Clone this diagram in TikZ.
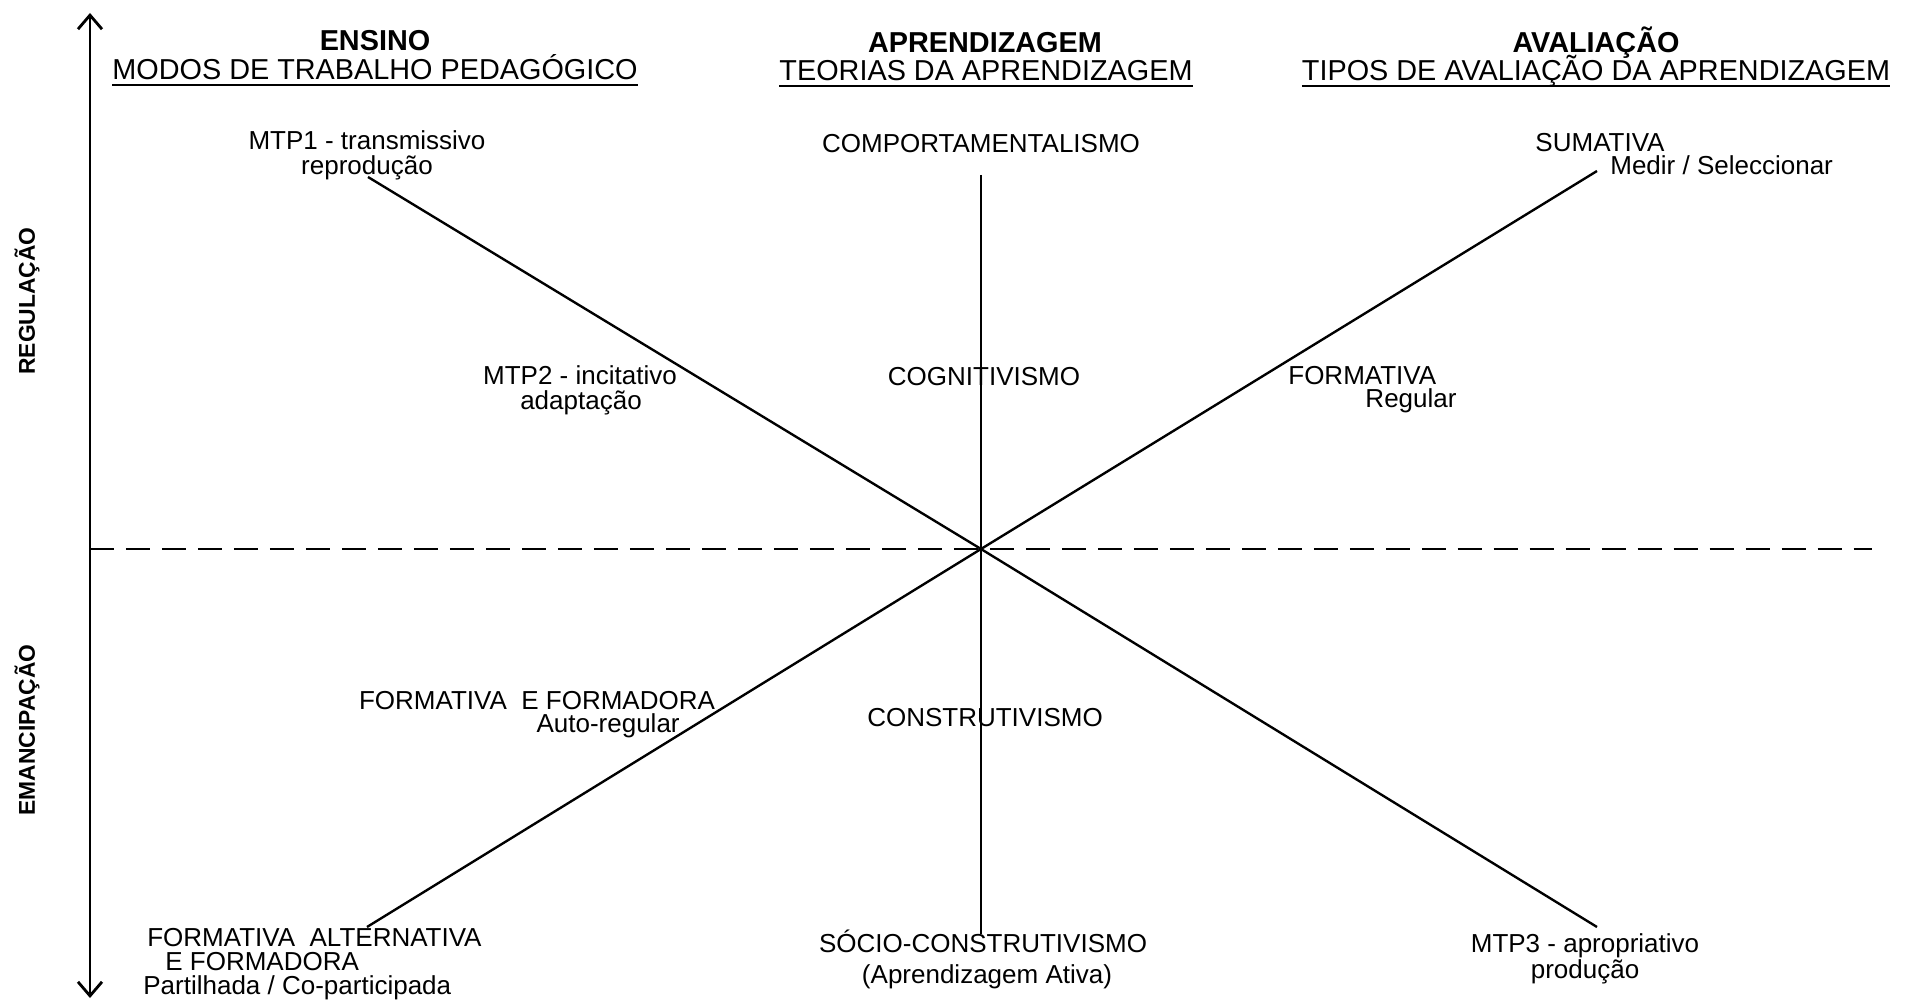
\documentclass[tikz,border=0pt]{standalone}
\usepackage{fontspec}
\setmainfont{Liberation Sans}
\usetikzlibrary{arrows.meta}

\newcommand{\sublinha}[1]{\setbox0\hbox{#1}\rlap{\rule[-3.5pt]{\wd0}{1pt}}\box0}

\tikzset{
  eixo/.style={line width=1.6pt, {Straight Barb[length=0.28cm,width=0.48cm]}-{Straight Barb[length=0.28cm,width=0.48cm]}},
  raio/.style={line width=1.35pt},
  limite/.style={line width=1.4pt, dash pattern=on 0.48cm off 0.24cm},
  titulo/.style={anchor=base, inner sep=0pt, font=\fontsize{16.4}{19}\selectfont\bfseries},
  subtitulo/.style={anchor=base, inner sep=0pt, font=\fontsize{16.4}{19}\selectfont},
  texto/.style={anchor=base, inner sep=0pt, font=\fontsize{14.8}{17}\selectfont},
  polo/.style={rotate=90, inner sep=0pt, font=\fontsize{13}{15}\selectfont\bfseries},
}

\begin{document}
\begin{tikzpicture}[x=0.02cm, y=-0.02cm]
    \useasboundingbox (0,0) rectangle (1907,1000);

    % eixos
    \coordinate (topo) at (90,13);
    \coordinate (fundo) at (90,998);
    \coordinate (esq) at (90,549);
    \coordinate (dir) at (1872,549);
    \coordinate (c) at (981,549);
    \coordinate (v1) at (981,175);
    \coordinate (v2) at (981,934);
    \coordinate (d1) at (368,177);
    \coordinate (d2) at (1597,927);
    \coordinate (d3) at (1597,171);
    \coordinate (d4) at (367,927);

    \draw[eixo] (topo) -- (fundo);
    \draw[limite] (esq) -- (dir);
    \draw[raio] (v1) -- (c) -- (v2);
    \draw[raio] (d1) -- (c) -- (d2);
    \draw[raio] (d3) -- (c) -- (d4);

    % cabecalhos
    \node[titulo] (ens) at (375,51) {ENSINO};
    \node[subtitulo] (modos) at (375,80) {\sublinha{MODOS DE TRABALHO PEDAGÓGICO}};
    \node[titulo] (apr) at (985,53) {APRENDIZAGEM};
    \node[subtitulo] (teor) at (986,81) {\sublinha{TEORIAS DA APRENDIZAGEM}};
    \node[titulo] (aval) at (1596,53) {AVALIAÇÃO};
    \node[subtitulo] (tipos) at (1596,81) {\sublinha{TIPOS DE AVALIAÇÃO DA APRENDIZAGEM}};

    \node[polo] (reg) at (27,301) {REGULAÇÃO};
    \node[polo] (emanc) at (27,730) {EMANCIPAÇÃO};

    % ensino
    \node[texto] (mtpa) at (367,150) {MTP1 - transmissivo};
    \node[texto] (mtpb) at (367,175) {reprodução};
    \node[texto] (mtpc) at (580,384) {MTP2 - incitativo};
    \node[texto] (mtpd) at (581,409) {adaptação};
    \node[texto] (mtpe) at (1585,952) {MTP3 - apropriativo};
    \node[texto] (mtpf) at (1585,978) {produção};

    % aprendizagem
    \node[texto] (comp) at (981,153) {COMPORTAMENTALISMO};
    \node[texto] (cogn) at (984,385) {COGNITIVISMO};
    \node[texto] (cons) at (985,726) {CONSTRUTIVISMO};
    \node[texto] (soc) at (983,952) {SÓCIO-CONSTRUTIVISMO};
    \node[texto] (ativa) at (987,983) {(Aprendizagem Ativa)};

    % avaliacao
    \node[texto] (suma) at (1600,152) {SUMATIVA};
    \node[texto, anchor=base west] (sumb) at (1610,175) {Medir / Seleccionar};
    \node[texto, anchor=base west] (forma) at (1288,384) {FORMATIVA};
    \node[texto] (formb) at (1411,407) {Regular};
    \node[texto] (fefa) at (537,709) {FORMATIVA\ \ E FORMADORA};
    \node[texto, anchor=base east] (fefb) at (680,732) {Auto-regular};
    \node[texto, anchor=base west] (alta) at (147,946) {FORMATIVA\ \ ALTERNATIVA};
    \node[texto, anchor=base west] (altb) at (165,970) {E FORMADORA};
    \node[texto, anchor=base west] (altc) at (143,994) {Partilhada / Co-participada};
\end{tikzpicture}
\end{document}
